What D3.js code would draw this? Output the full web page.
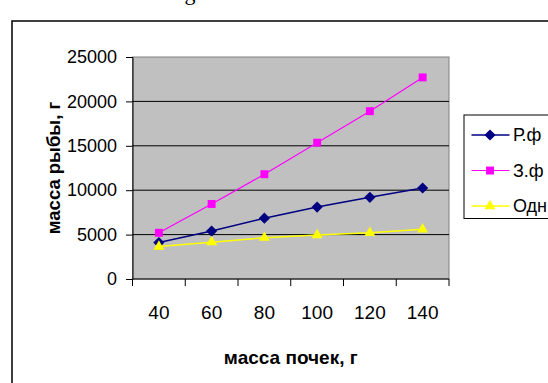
<!DOCTYPE html>
<html>
<head>
<meta charset="utf-8">
<script src="https://cdn.jsdelivr.net/npm/d3@7"></script>
<style>
  html, body { margin: 0; padding: 0; background: #fff; }
  svg { display: block; }
</style>
</head>
<body>
<div id="chart"></div>
<script>
// mass of kidneys (x) vs fish mass (y), three series
const categories = [40, 60, 80, 100, 120, 140];
const seriesNames = ['Р.ф', 'З.ф', 'Одн'];
const valuesR = [4100, 5400, 6850, 8100, 9200, 10250];
const valuesZ = [5200, 8450, 11800, 15350, 18900, 22700];
const valuesO = [3650, 4150, 4650, 4950, 5200, 5600];
const yTicks = [0, 5000, 10000, 15000, 20000, 25000];

const W = 548, H = 383;
const plot = { left: 132.5, right: 449, top: 57, bottom: 279 };
const FONT = '"Liberation Sans", Arial, sans-serif';

const svg = d3.select('#chart').append('svg')
  .attr('width', W).attr('height', H);

// bit of document text cut off above the chart
svg.append('text')
  .attr('x', 190).attr('y', 0)
  .attr('text-anchor', 'middle')
  .attr('font-family', '"Liberation Serif", "Times New Roman", serif')
  .attr('font-size', 22)
  .text('g');

// chart frame (runs off the canvas right and bottom)
svg.append('rect')
  .attr('x', 12).attr('y', 21)
  .attr('width', 600).attr('height', 400)
  .attr('fill', '#fff')
  .attr('stroke', '#000').attr('stroke-width', 1.5);

const x = d3.scaleBand()
  .domain(categories)
  .range([plot.left, plot.right])
  .padding(0);

const y = d3.scaleLinear()
  .domain([0, 25000])
  .range([plot.bottom, plot.top]);

// plot area
svg.append('rect')
  .attr('x', plot.left).attr('y', plot.top)
  .attr('width', plot.right - plot.left)
  .attr('height', plot.bottom - plot.top)
  .attr('fill', '#c0c0c0')
  .attr('stroke', '#808080').attr('stroke-width', 1);

// gridlines
svg.append('g')
  .selectAll('line')
  .data(yTicks.filter(v => v > 0 && v < 25000))
  .join('line')
  .attr('x1', plot.left).attr('x2', plot.right)
  .attr('y1', d => y(d)).attr('y2', d => y(d))
  .attr('stroke', '#000').attr('stroke-width', 1);

// y axis
const yAxis = svg.append('g')
  .attr('transform', `translate(${plot.left},0)`)
  .call(d3.axisLeft(y).tickValues(yTicks).tickSize(6.5).tickPadding(9).tickFormat(d3.format('d')));
yAxis.select('.domain').attr('stroke', '#000').attr('stroke-width', 1);
yAxis.selectAll('.tick line').attr('stroke', '#000');
yAxis.selectAll('text')
  .attr('font-family', FONT).attr('font-size', 18).attr('fill', '#000');

// x axis: labels at band centres, ticks at band edges
const xAxis = svg.append('g')
  .attr('transform', `translate(0,${plot.bottom})`)
  .call(d3.axisBottom(x).tickSize(0).tickPadding(27));
xAxis.select('.domain').remove();
xAxis.selectAll('text')
  .attr('font-family', FONT).attr('font-size', 19).attr('fill', '#000');

const edges = categories.map(c => x(c)).concat([x(categories[categories.length - 1]) + x.bandwidth()]);
svg.append('line')
  .attr('x1', plot.left).attr('x2', plot.right)
  .attr('y1', plot.bottom).attr('y2', plot.bottom)
  .attr('stroke', '#000').attr('stroke-width', 1);
svg.append('g')
  .selectAll('line')
  .data(edges)
  .join('line')
  .attr('x1', d => d).attr('x2', d => d)
  .attr('y1', plot.bottom).attr('y2', plot.bottom + 7)
  .attr('stroke', '#000').attr('stroke-width', 1);

// axis titles
svg.append('text')
  .attr('x', (plot.left + plot.right) / 2).attr('y', 364)
  .attr('text-anchor', 'middle')
  .attr('font-family', FONT).attr('font-size', 19).attr('font-weight', 'bold')
  .text('масса почек, г');

svg.append('text')
  .attr('transform', `translate(60,${(plot.top + plot.bottom) / 2}) rotate(-90)`)
  .attr('text-anchor', 'middle')
  .attr('font-family', FONT).attr('font-size', 18.5).attr('font-weight', 'bold')
  .text('масса рыбы, г');

// series
const series = [
  { name: seriesNames[0], values: valuesR, color: '#000080', width: 1.5, symbol: d3.symbolDiamond2, size: 80 },
  { name: seriesNames[1], values: valuesZ, color: '#ff00ff', width: 1.2, symbol: d3.symbolSquare2, size: 80 },
  { name: seriesNames[2], values: valuesO, color: '#ffff00', width: 1.5, symbol: d3.symbolTriangle2, size: 85 },
];

const cx = c => x(c) + x.bandwidth() / 2;
const line = d3.line().x((d, i) => cx(categories[i])).y(d => y(d));

series.forEach(s => {
  svg.append('path')
    .attr('d', line(s.values))
    .attr('fill', 'none')
    .attr('stroke', s.color).attr('stroke-width', s.width);
  svg.append('g')
    .selectAll('path')
    .data(s.values)
    .join('path')
    .attr('transform', (d, i) => `translate(${cx(categories[i])},${y(d)})`)
    .attr('d', d3.symbol(s.symbol, s.size)())
    .attr('fill', s.color);
});

// legend
const lg = svg.append('g');
lg.append('rect')
  .attr('x', 464).attr('y', 115)
  .attr('width', 200).attr('height', 103.5)
  .attr('fill', '#fff')
  .attr('stroke', '#000').attr('stroke-width', 1);

series.forEach((s, i) => {
  const ly = 135 + i * 35.5;
  lg.append('line')
    .attr('x1', 471.5).attr('x2', 509.5)
    .attr('y1', ly).attr('y2', ly)
    .attr('stroke', s.color).attr('stroke-width', s.width);
  lg.append('path')
    .attr('transform', `translate(490,${ly})`)
    .attr('d', d3.symbol(s.symbol, s.size)())
    .attr('fill', s.color);
  lg.append('text')
    .attr('x', 513).attr('y', ly)
    .attr('dy', '0.35em')
    .attr('font-family', FONT).attr('font-size', 18)
    .text(s.name);
});
</script>
</body>
</html>
